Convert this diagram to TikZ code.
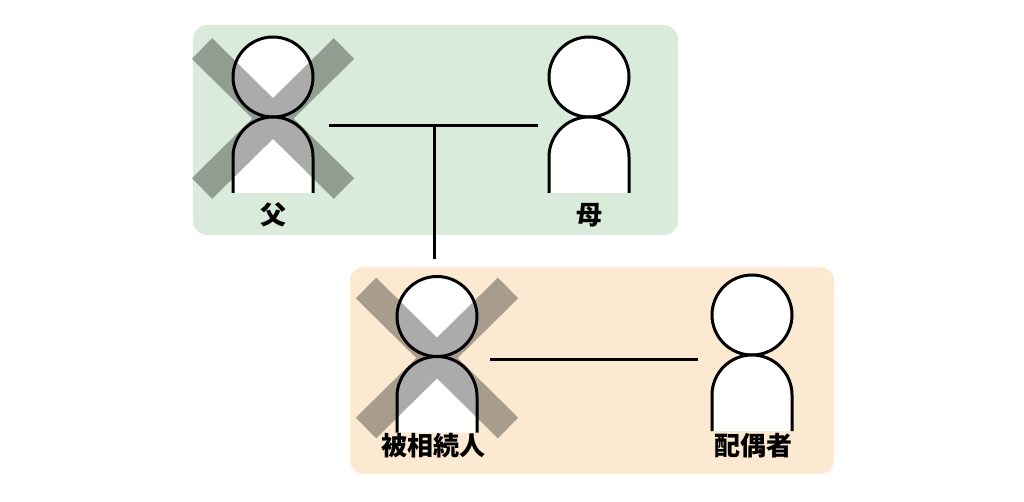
\documentclass[tikz,border=0pt]{standalone}
\usepackage{fontspec}
\newfontfamily\jpfont{Noto Sans CJK JP}
\definecolor{greenbg}{HTML}{DAEBDB}
\definecolor{orangebg}{HTML}{FBE9D1}
\newcommand\personfig[3]{%
  \node[circle, minimum size=80pt, inner sep=0pt, outer sep=0pt, outline] (#1-head) at (#2,#3) {};
  \filldraw[outline] (#2-40,#3+116) -- (#2-40,#3+80) arc[start angle=180, end angle=0, radius=40pt] -- (#2+40,#3+116);
}
\newcommand\crossfig[2]{%
  \draw[crossband] (#1-71,#2-70) -- (#1+71,#2+70) (#1+71,#2-70) -- (#1-71,#2+70);
}
\begin{document}
\begin{tikzpicture}[x=1pt,y=-1pt,
  grp/.style={rounded corners=14pt},
  outline/.style={line width=3pt, draw=black, fill=white},
  link/.style={line width=3pt, draw=black},
  crossband/.style={line width=29pt, draw=black, draw opacity=0.33},
  lbl/.style={font=\jpfont\bfseries\fontsize{26}{26}\selectfont, inner sep=0pt, anchor=center}]
\useasboundingbox (0,0) rectangle (1024,502);
% group boxes
\fill[greenbg, grp] (193,25) rectangle (678,235);
\fill[orangebg, grp] (350,267) rectangle (834,474);
% persons
\personfig{fa}{273}{77}
\personfig{mo}{589}{77}
\personfig{de}{437}{316.5}
\personfig{sp}{752}{315}
% crosses
\crossfig{273}{118.5}
\crossfig{437}{358}
% labels
\node[lbl] (fa-lbl) at (273,215) {父};
\node[lbl] (mo-lbl) at (589,215) {母};
\node[lbl] (de-lbl) at (433,446) {被相続人};
\node[lbl] (sp-lbl) at (753,446) {配偶者};
% connectors
\coordinate (fa-r) at (329,126);
\coordinate (mo-l) at (538,126);
\coordinate (jn) at (434,126);
\coordinate (ch-top) at (434,259);
\coordinate (de-r) at (490,359);
\coordinate (sp-l) at (698,359);
\draw[link] (fa-r) -- (mo-l);
\draw[link] (jn) -- (ch-top);
\draw[link] (de-r) -- (sp-l);
\end{tikzpicture}
\end{document}
